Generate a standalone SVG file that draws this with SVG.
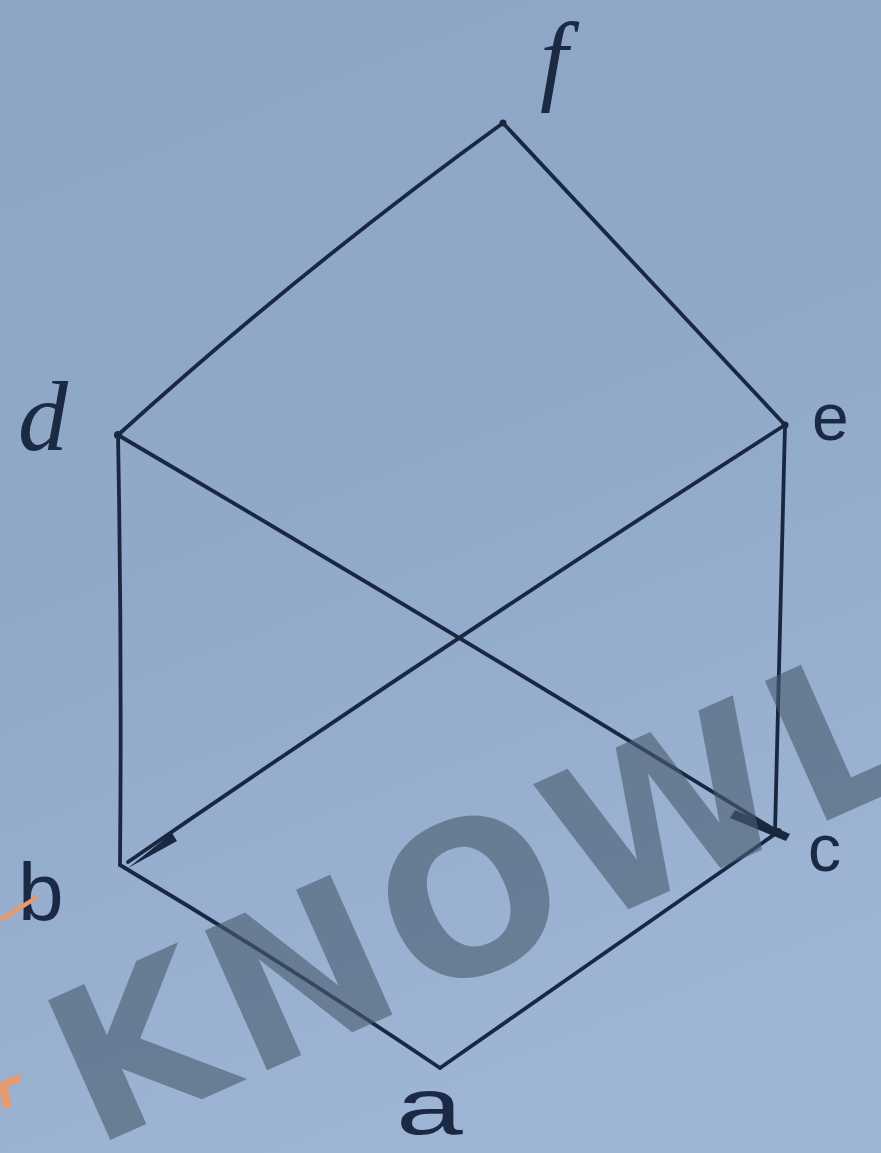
<svg xmlns="http://www.w3.org/2000/svg" width="881" height="1153" viewBox="0 0 881 1153">
<defs>
<linearGradient id="bg" x1="0" y1="0" x2="0.3" y2="1">
<stop offset="0" stop-color="#8ea6c5"/>
<stop offset="0.5" stop-color="#91a9c9"/>
<stop offset="1" stop-color="#9db4d4"/>
</linearGradient>
<style>
.edge{fill:none;stroke:#1a2741;stroke-width:3.8;stroke-linecap:round;stroke-linejoin:round}
.lbl{fill:#1b2944;font-family:"Liberation Sans",sans-serif}
.lbli{fill:#1b2944;font-family:"Liberation Serif",serif;font-style:italic}
.wm{fill:#4a5c70;fill-opacity:0.62;font-family:"DejaVu Sans",sans-serif;font-weight:bold}
</style>
</defs>
<rect width="881" height="1153" fill="url(#bg)"/>
<g id="connectors">
<path class="edge" d="M503,123 Q300,270 118,435"/>
<path class="edge" d="M503,123 Q650,280 785,425"/>
<path class="edge" d="M118,435 Q122,650 120,865"/>
<path class="edge" d="M118,435 Q450,630 778,832"/>
<path class="edge" d="M785,425 Q780,630 775,832"/>
<path class="edge" d="M785,425 Q450,640 128,862"/>
<path class="edge" d="M120,865 Q280,960 440,1068"/>
<path class="edge" d="M778,832 Q610,950 440,1068"/>
<path d="M128,868 L172,833 L177,841 Z" fill="#1a2741"/>
<path d="M735,810 L790,834 L786,841 L730,818 Z" fill="#1a2741"/>
</g>
<g id="node-f"><circle cx="503" cy="123" r="3.5" fill="#1a2741"/><text class="lbli" x="540" y="92" font-size="100">f</text></g>
<g id="node-d"><circle cx="118" cy="435" r="4" fill="#1a2741"/><text class="lbli" x="18" y="450" font-size="100">d</text></g>
<g id="node-e"><circle cx="785" cy="425" r="3.5" fill="#1a2741"/><text class="lbl" x="812" y="440" font-size="66">e</text></g>
<g id="node-b"><text class="lbl" x="18" y="920" font-size="82">b</text></g>
<g id="node-c"><circle cx="778" cy="832" r="4" fill="#1a2741"/><text class="lbl" x="808" y="871" font-size="66">c</text></g>
<g id="node-a"><text class="lbl" transform="translate(396,1134) scale(1.5,1)" font-size="80">a</text></g>
<g id="watermark">
<path d="M0,917 L37,895 L38,899 L2,922 Z" fill="#e79a6e"/>
<path d="M0,1082 L20,1074 L22,1081 L8,1087 L12,1106 L4,1109 L0,1094 Z" fill="#e79a6e"/>
<text class="wm" transform="translate(110,1140) rotate(-24)" x="-19" y="0" font-size="210" letter-spacing="9">KNOWL</text>
</g>
</svg>
